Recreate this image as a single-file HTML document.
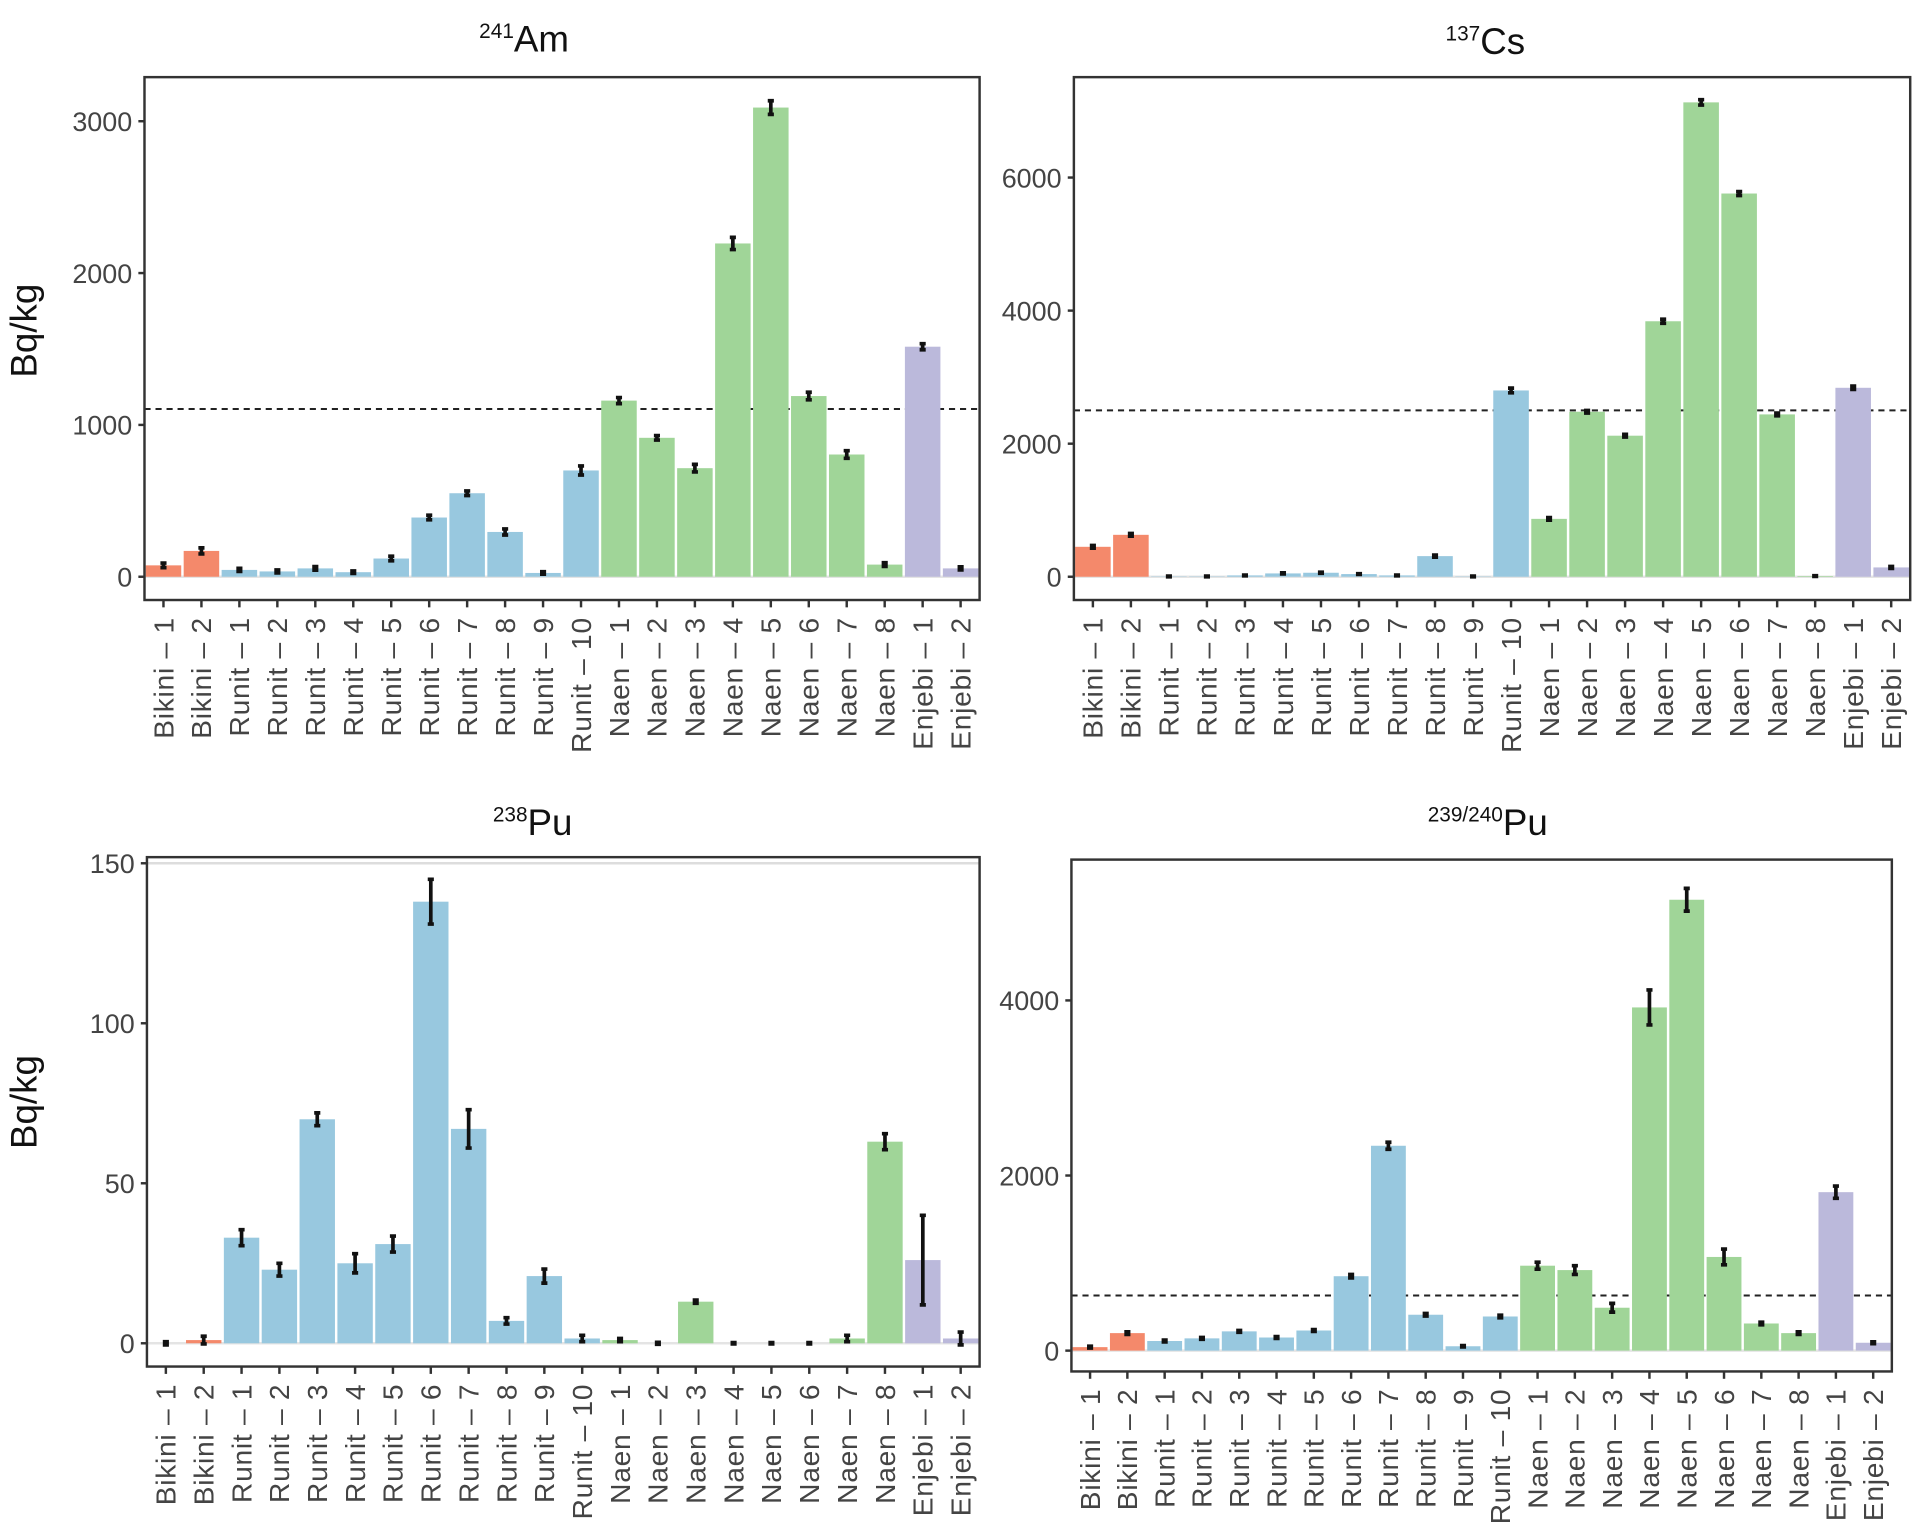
<!DOCTYPE html>
<html><head><meta charset="utf-8"><style>
html,body{margin:0;padding:0;background:#fff;}
svg{display:block;font-family:"Liberation Sans",sans-serif;}
</style></head><body>
<svg id="fig" width="1920" height="1525" viewBox="0 0 1568 1245.4" preserveAspectRatio="none" xmlns="http://www.w3.org/2000/svg"></svg>
<script>
const categories=["Bikini – 1","Bikini – 2","Runit – 1","Runit – 2","Runit – 3","Runit – 4","Runit – 5","Runit – 6","Runit – 7","Runit – 8","Runit – 9","Runit – 10","Naen – 1","Naen – 2","Naen – 3","Naen – 4","Naen – 5","Naen – 6","Naen – 7","Naen – 8","Enjebi – 1","Enjebi – 2"];
const groups=["B","B","R","R","R","R","R","R","R","R","R","R","N","N","N","N","N","N","N","N","E","E"];
const amValues=[75,170,45,35,55,30,120,390,550,295,25,700,1160,915,715,2195,3090,1190,805,80,1515,55];
const amErrors=[15,20,10,10,12,8,15,15,15,20,8,30,20,15,25,40,45,25,25,12,20,10];
const csValues=[450,630,5,5,20,50,60,40,20,310,5,2800,870,2480,2120,3840,7130,5760,2440,10,2840,140];
const csErrors=[20,20,5,5,5,8,8,5,5,15,5,35,20,20,20,30,40,30,20,5,25,15];
const pu238Values=[0,1,33,23,70,25,31,138,67,7,21,1.5,1,0,13,0,0,0,1.5,63,26,1.5];
const pu238Errors=[0.5,1.2,2.5,2,2,3,2.5,7,6,1,2.2,1,0.5,0.3,0.5,0.2,0.2,0.2,1,2.5,14,2];
const pu239Values=[40,200,110,140,220,150,230,850,2340,410,50,390,970,920,490,3920,5150,1070,310,200,1810,90];
const pu239Errors=[10,15,10,10,10,10,10,20,40,15,8,15,40,50,50,200,130,90,15,15,70,10];
const amTicks=[0,1000,2000,3000], csTicks=[0,2000,4000,6000], pu238Ticks=[0,50,100,150], pu239Ticks=[0,2000,4000];
const colors={B:"#f4896b",R:"#98c8df",N:"#a0d598",E:"#bbb9db"};
const NS="http://www.w3.org/2000/svg", svg=document.getElementById("fig");
function mk(tag,attrs,parent,text){const e=document.createElementNS(NS,tag);for(const k in attrs)e.setAttribute(k,attrs[k]);if(text!==undefined)e.textContent=text;(parent||svg).appendChild(e);return e;}
function panel(o){
  const g=mk("g",{});
  
  
  const bw=(o.x1-o.x0)/categories.length;
  const y=v=>o.y0px-(v/o.vmax)*(o.y0px-o.vmaxpx);
  const xc=i=>o.x0+bw*(i+0.5);
  if(o.ref!==undefined){const l=mk("line",{x1:o.x0,x2:o.x1,y1:y(o.ref),y2:y(o.ref),stroke:"#222","stroke-width":1.6,"stroke-dasharray":"5,4"},g);
    }
  if(o.topline){const l=mk("line",{x1:o.x0,x2:o.x1,y1:y(o.topline),y2:y(o.topline),stroke:"#ddd","stroke-width":2},g);}
  mk("line",{x1:o.x0,x2:o.x1,y1:o.y0px,y2:o.y0px,stroke:"#e4e4e4","stroke-width":2},g);
  o.values.forEach((v,i)=>{
    const b=mk("rect",{x:xc(i)-bw/2+1,width:bw-2,y:y(v),height:Math.max(0,o.y0px-y(v)),fill:colors[groups[i]]},g);
    
    
    const e=o.errors[i], c=xc(i);
    const eb=mk("path",{d:`M${c-2.5},${y(v+e)}H${c+2.5}M${c},${y(v+e)}V${y(v-e)}M${c-2.5},${y(v-e)}H${c+2.5}`,stroke:"#111","stroke-width":3,fill:"none"},g);
    
    mk("line",{x1:c,x2:c,y1:o.y1,y2:o.y1+6,stroke:"#333","stroke-width":2},g);
    const t=mk("text",{x:0,y:0,transform:`translate(${c+8},${o.y1+14}) rotate(-90)`,"text-anchor":"end","font-size":23,"letter-spacing":0.6,fill:"#444"},g,categories[i]);
    
  });
  o.ticks.forEach(tv=>{
    mk("line",{x1:o.x0-5,x2:o.x0,y1:y(tv),y2:y(tv),stroke:"#333","stroke-width":2},g);
    const t=mk("text",{x:o.x0-10,y:y(tv)+8,"text-anchor":"end","font-size":22,fill:"#444"},g,tv);
    
  });
  const fr=mk("rect",{x:o.x0,y:o.ytop,width:o.x1-o.x0,height:o.y1-o.ytop,fill:"none",stroke:"#333","stroke-width":2},g);
  
  const tt=mk("text",{x:o.tx,y:o.ty,"text-anchor":"middle","font-size":30,fill:"#111"},g);
  
  mk("tspan",{"font-size":17,dy:-11},tt,o.sup);mk("tspan",{dy:11},tt,o.el);
}
panel({name:"am241",x0:118,x1:800,ytop:63,y1:490,y0px:471,vmax:3000,vmaxpx:99,values:amValues,errors:amErrors,ticks:amTicks,ref:1105,tx:428,ty:42,sup:"241",el:"Am"});
panel({name:"cs137",x0:877,x1:1560,ytop:63,y1:490,y0px:471,vmax:6000,vmaxpx:145,values:csValues,errors:csErrors,ticks:csTicks,ref:2500,tx:1213,ty:44,sup:"137",el:"Cs"});
panel({name:"pu238",x0:120,x1:800,ytop:700,y1:1116,y0px:1097,vmax:150,vmaxpx:705,values:pu238Values,errors:pu238Errors,ticks:pu238Ticks,topline:150,tx:435,ty:682,sup:"238",el:"Pu"});
panel({name:"pu239",x0:875,x1:1545,ytop:702,y1:1120,y0px:1103,vmax:4000,vmaxpx:817,values:pu239Values,errors:pu239Errors,ticks:pu239Ticks,ref:630,tx:1215,ty:682,sup:"239/240",el:"Pu"});
[[270],[900]].forEach(([cy])=>{const t=mk("text",{x:0,y:0,transform:`translate(30,${cy}) rotate(-90)`,"text-anchor":"middle","font-size":30,fill:"#111"},svg,"Bq/kg");
 });
</script>
</body></html>
